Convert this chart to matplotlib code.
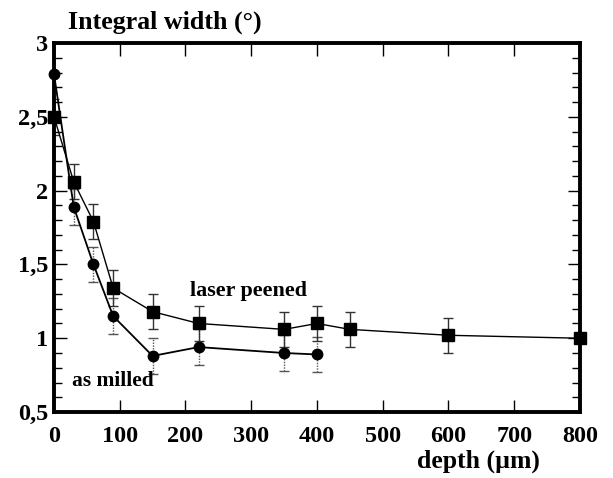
import matplotlib
matplotlib.use("Agg")
import matplotlib.pyplot as plt
from matplotlib.ticker import MultipleLocator, FuncFormatter

# Laser peened series (squares)
depth_lp = [0, 30, 60, 90, 150, 220, 350, 400, 450, 600, 800]
width_lp = [2.50, 2.06, 1.79, 1.34, 1.18, 1.10, 1.06, 1.10, 1.06, 1.02, 1.00]
err_lp = [0.12, 0.12, 0.12, 0.12, 0.12, 0.12, 0.12, 0.12, 0.12, 0.12, 0.0]

# As milled series (circles)
depth_am = [0, 30, 60, 90, 150, 220, 350, 400]
width_am = [2.79, 1.89, 1.50, 1.15, 0.88, 0.94, 0.90, 0.89]
err_am = [0.0, 0.12, 0.12, 0.12, 0.12, 0.12, 0.12, 0.12]

x_ticks = [0, 100, 200, 300, 400, 500, 600, 700, 800]
y_ticks = [0.5, 1.0, 1.5, 2.0, 2.5, 3.0]

serif = ["Liberation Serif", "DejaVu Serif"]
plt.rcParams["font.family"] = serif

fig = plt.figure(figsize=(6.13, 4.78), dpi=100)
ax = fig.add_axes([0.0881, 0.138, 0.858, 0.772])

# error bars: dotted for the as-milled set, solid for the peened set
e1 = ax.errorbar(depth_am, width_am, yerr=err_am, fmt="none", ecolor="#555555",
                 elinewidth=1.0, capsize=3.5, capthick=1.0, zorder=2)
for lc in e1[2]:
    lc.set_linestyle((0, (1, 1)))
ax.errorbar(depth_lp, width_lp, yerr=err_lp, fmt="none", ecolor="#333333",
            elinewidth=1.0, capsize=3.5, capthick=1.0, zorder=2)

ax.plot(depth_am, width_am, "-o", color="black", lw=1.3, ms=7.5, zorder=3,
        clip_on=False)
ax.plot(depth_lp, width_lp, "-s", color="black", lw=1.0, ms=8.5, zorder=3,
        clip_on=False)

ax.set_xlim(0, 800)
ax.set_ylim(0.5, 3.0)
ax.set_xticks(x_ticks)
ax.set_yticks(y_ticks)
ax.yaxis.set_minor_locator(MultipleLocator(0.1))
ax.yaxis.set_major_formatter(FuncFormatter(lambda v, p: f"{v:g}".replace(".", ",")))
ax.xaxis.set_major_formatter(FuncFormatter(lambda v, p: f"{v:g}"))

for s in ax.spines.values():
    s.set_linewidth(2.8)

ax.tick_params(axis="both", which="major", direction="in", top=True, right=True,
               length=9, width=1.0, labelsize=17.5)
ax.tick_params(axis="x", which="major", pad=10)
ax.tick_params(axis="y", which="major", pad=4)
ax.tick_params(axis="y", which="minor", direction="in", left=True, right=True,
               length=5.5, width=1.0)
for lbl in ax.get_xticklabels() + ax.get_yticklabels():
    lbl.set_fontweight("bold")

fig.text(0.111, 0.941, "Integral width (°)", fontsize=18.7, fontweight="bold",
         ha="left", va="baseline")
fig.text(0.781, 0.036, "depth (µm)", fontsize=18.5, fontweight="bold",
         ha="center", va="center")

ax.text(207, 1.32, "laser peened", fontsize=15.8, fontweight="bold",
        ha="left", va="center")
ax.text(27, 0.71, "as milled", fontsize=15.5, fontweight="bold",
        ha="left", va="center")

fig.savefig("out.png", dpi=100)
